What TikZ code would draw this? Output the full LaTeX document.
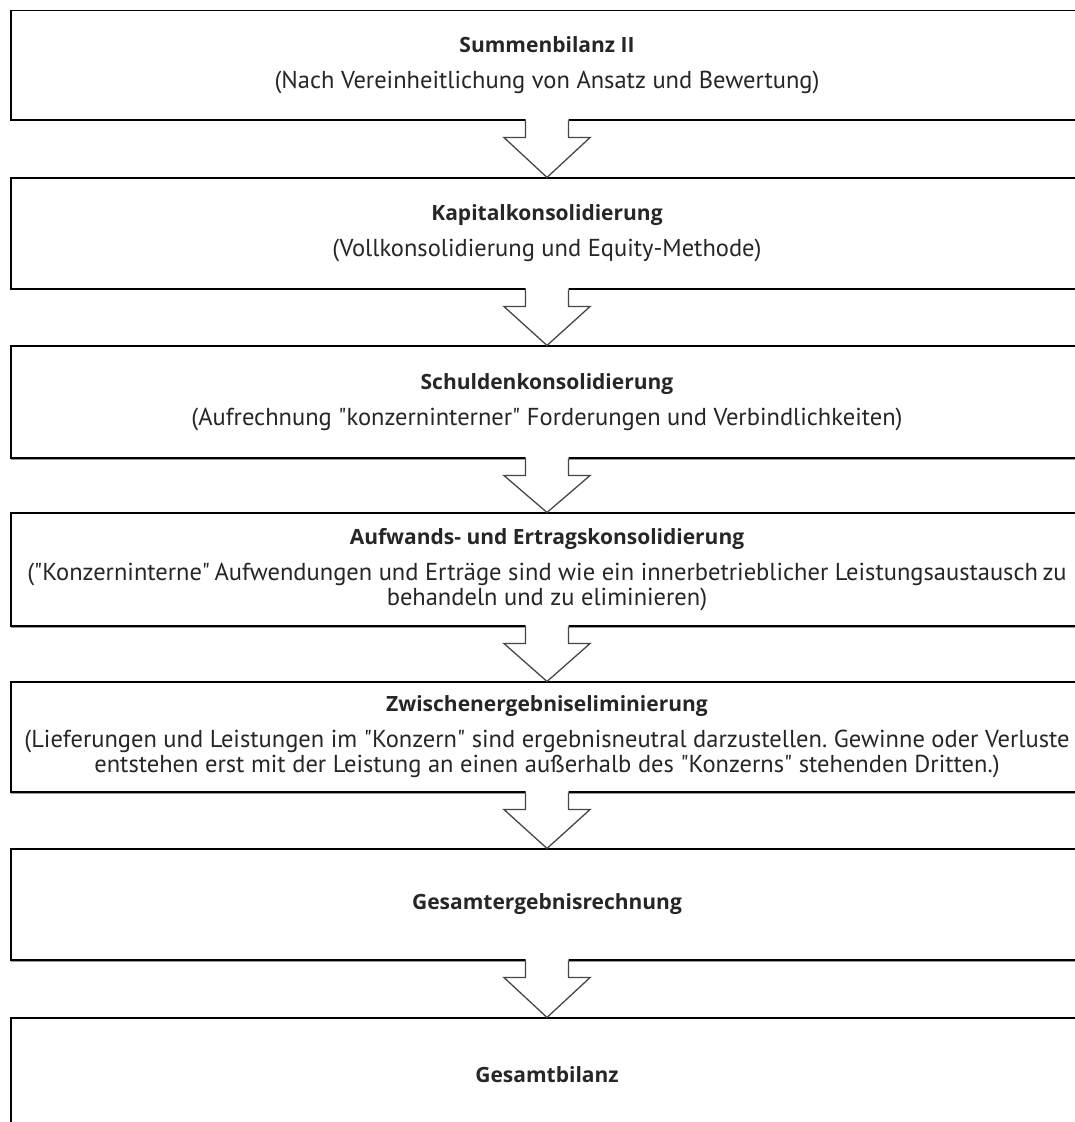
\documentclass[tikz,border=0pt]{standalone}
\usepackage{fontspec}
\setmainfont{PT Sans}[Ligatures=TeXOff]
\newfontfamily\titlefont{Open Sans}[Ligatures=TeXOff]
\usetikzlibrary{calc}
\tikzset{
  stage/.style={draw=black, line width=1.1pt, rectangle, inner sep=0pt,
    minimum width=1072pt, align=center, font=\fontsize{24.5}{25}\selectfont, text=black!85},
  arrowline/.style={draw=black!72, line width=1.3pt, line join=miter},
  shadowline/.style={draw=black!40, line width=1.6pt}
}
\newcommand{\ttlfmt}[1]{{\titlefont\fontsize{21}{25}\selectfont\bfseries #1}}
\newcommand{\ttl}[1]{\ttlfmt{#1}\\[11pt]}
\newcommand{\blockarrow}[2]{%
  \fill[white] ($(#1.south)+(-21.5,-1.5)$) -- ($(#1.south)+(-21.5,17)$) -- ($(#1.south)+(-43,17)$)
     -- (#2.north) -- ($(#1.south)+(43,17)$) -- ($(#1.south)+(21.5,17)$) -- ($(#1.south)+(21.5,-1.5)$) -- cycle;
  \draw[arrowline] ($(#1.south)+(-21.5,0)$) -- ($(#1.south)+(-21.5,17)$) -- ($(#1.south)+(-43,17)$)
     -- (#2.north) -- ($(#1.south)+(43,17)$) -- ($(#1.south)+(21.5,17)$) -- ($(#1.south)+(21.5,0)$);
}
\begin{document}
\begin{tikzpicture}[x=1pt,y=-1pt]
\useasboundingbox[fill=white] (0,0) rectangle (1075,1122);
\node[stage, minimum height=109.3pt] (b1) at (547,65.35)
  {\ttl{Summenbilanz II}(Nach Vereinheitlichung von Ansatz und Bewertung)};
\node[stage, minimum height=111pt] (b2) at (547,233.5)
  {\ttl{Kapitalkonsolidierung}(Vollkonsolidierung und Equity-Methode)};
\node[stage, minimum height=112pt] (b3) at (547,402)
  {\ttl{Schuldenkonsolidierung}(Aufrechnung "konzerninterner" Forderungen und Verbindlichkeiten)};
\node[stage, minimum height=113pt] (b4) at (547,569.5)
  {\ttl{Aufwands- und Ertragskonsolidierung}("Konzerninterne"\hspace{-2pt} Aufwendungen und Erträge sind wie ein innerbetrieblicher Leistungsaustausch\hspace{-2pt} zu\\ behandeln und zu eliminieren)};
\node[stage, minimum height=110pt] (b5) at (547,737)
  {\ttl{Zwischenergebniseliminierung}(Lieferungen und Leistungen im "Konzern" sind ergebnisneutral darzustellen.\hspace{-2pt} Gewinne oder Verluste\\ entstehen erst mit der Leistung an einen außerhalb des "Konzerns" stehenden Dritten.)};
\node[stage, minimum height=111pt] (b6) at (547,904.5) {\ttlfmt{Gesamtergebnisrechnung}};
\node[stage, minimum height=113pt] (b7) at (547,1074.5) {\ttlfmt{Gesamtbilanz}};
\foreach \b in {b3,b4,b5,b6}{
  \draw[shadowline] ($(\b.south west)+(0.5,1)$) -- ($(\b.south east)+(0,1)$);
}
\blockarrow{b1}{b2}
\blockarrow{b2}{b3}
\blockarrow{b3}{b4}
\blockarrow{b4}{b5}
\blockarrow{b5}{b6}
\blockarrow{b6}{b7}
\end{tikzpicture}
\end{document}
